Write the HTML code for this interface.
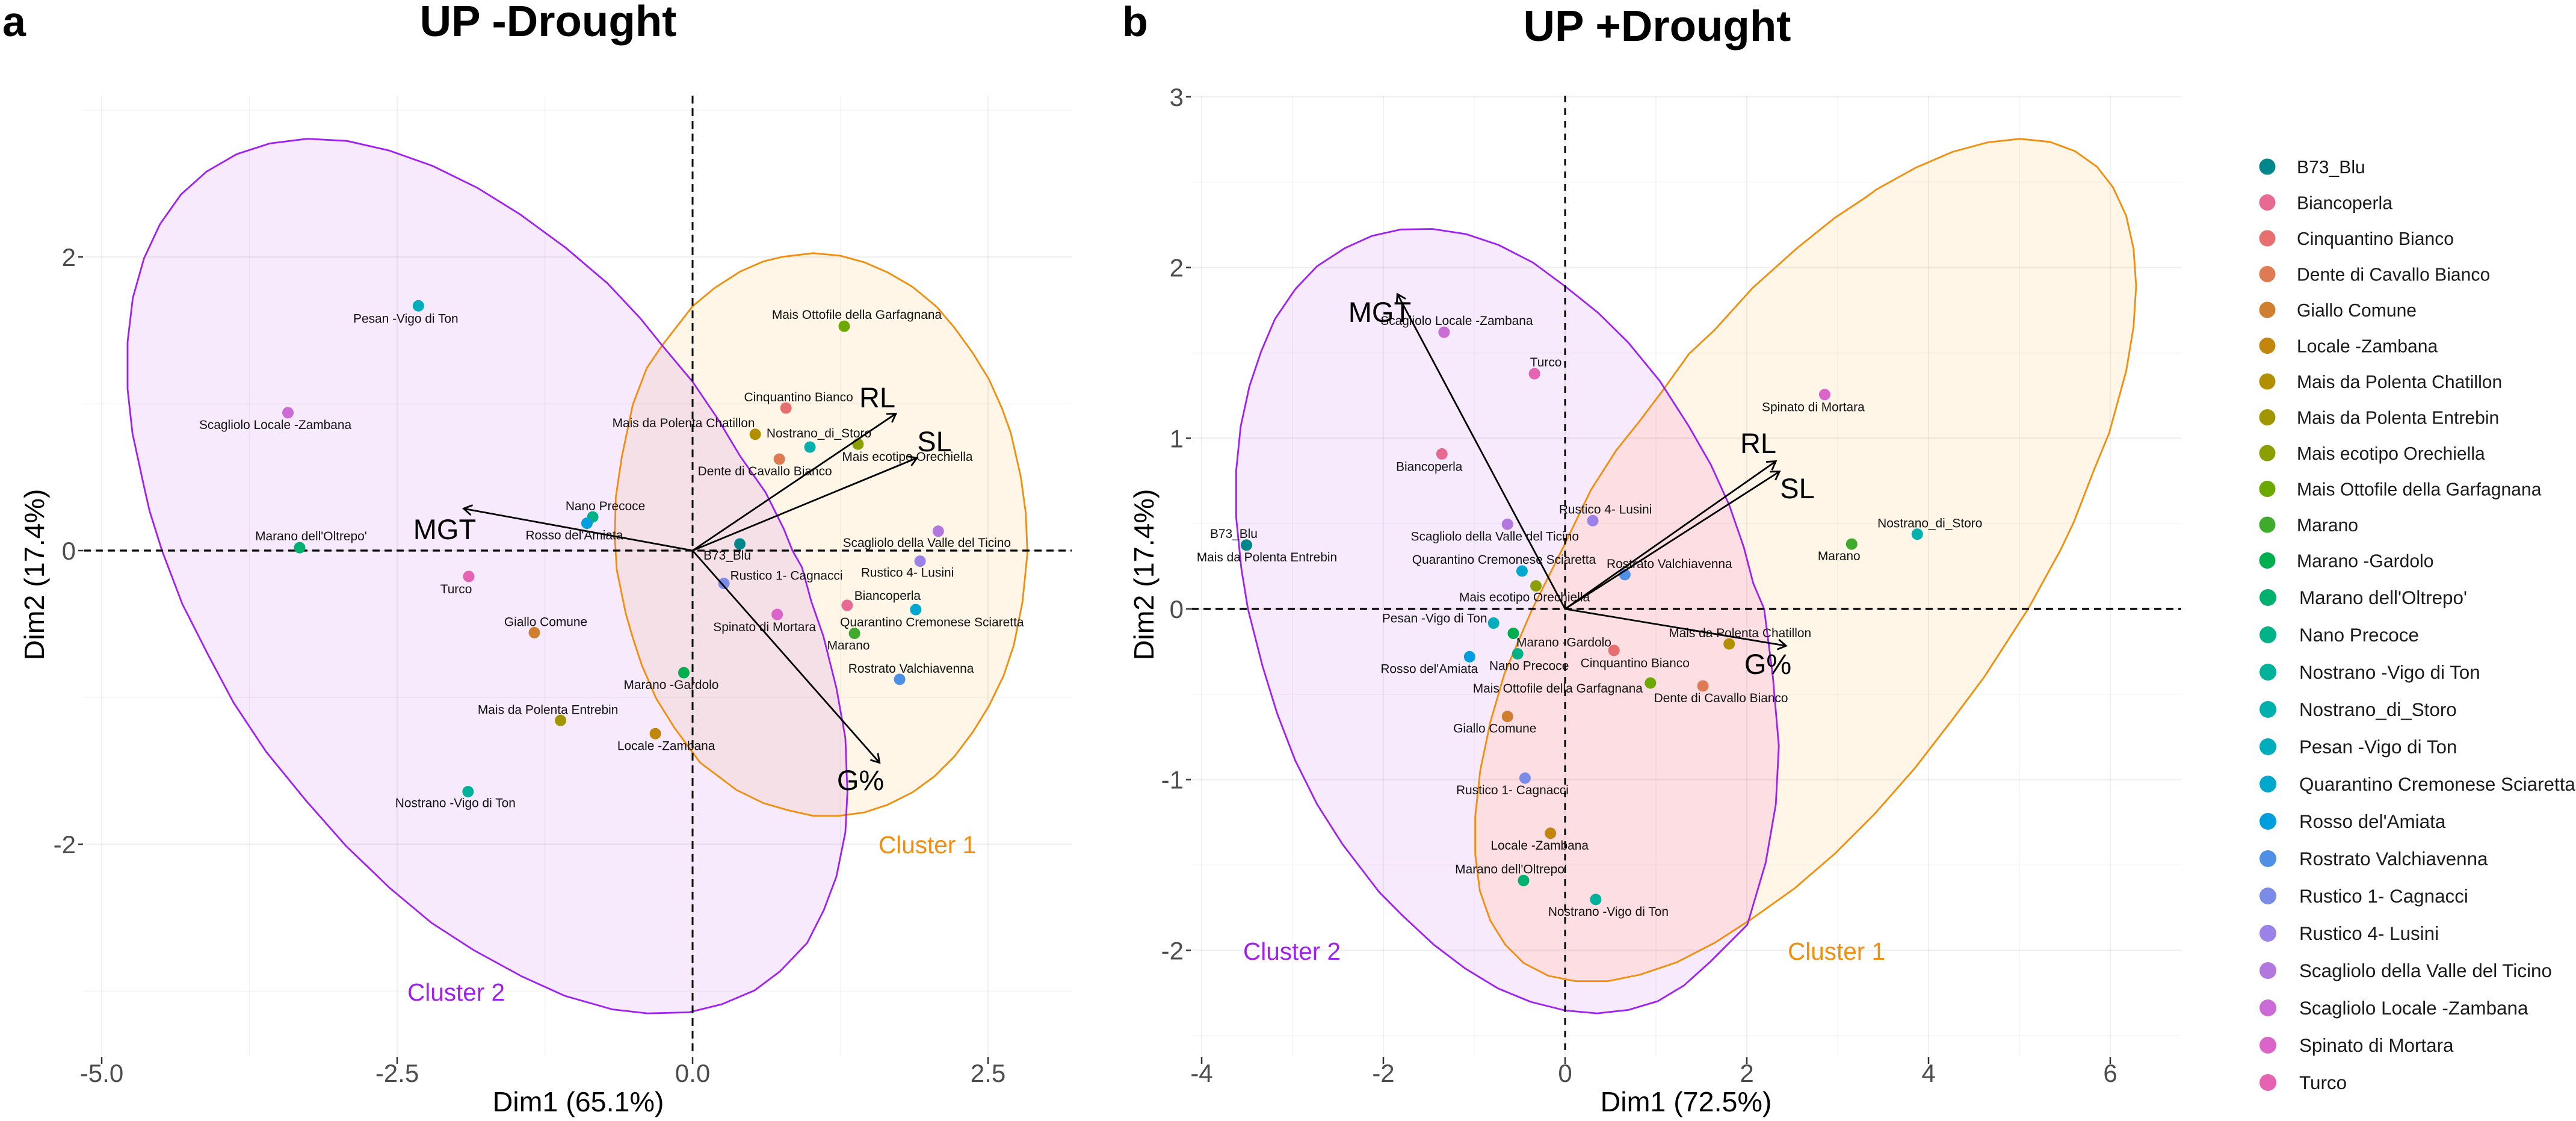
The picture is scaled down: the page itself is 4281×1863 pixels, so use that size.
<!DOCTYPE html>
<html lang="en">
<head>
<meta charset="utf-8">
<title>UP Drought PCA biplots</title>
<style>
html,body{margin:0;padding:0;background:#fff;}
svg{display:block;font-family:"Liberation Sans",Arial,sans-serif;}
</style>
</head>
<body>
<svg id="chart" xmlns="http://www.w3.org/2000/svg" width="4281" height="1863" viewBox="0 0 4281 1863">
  <rect x="0" y="0" width="4281" height="1863" fill="#ffffff"/>
  <text x="4" y="60" font-size="70" font-weight="700" fill="#000">a</text>
  <text x="1865" y="60" font-size="70" font-weight="700" fill="#000">b</text>
  <text x="911" y="60" font-size="72.7" font-weight="700" text-anchor="middle" fill="#000">UP -Drought</text>
  <text x="2754" y="68" font-size="72.7" font-weight="700" text-anchor="middle" fill="#000">UP +Drought</text>
  <g id="panelA"></g>
  <g id="panelB"></g>
  <g id="legend"></g>
</svg>
<script>
const genotypeNames = ["B73_Blu","Biancoperla","Cinquantino Bianco","Dente di Cavallo Bianco","Giallo Comune","Locale -Zambana","Mais da Polenta Chatillon","Mais da Polenta Entrebin","Mais ecotipo Orechiella","Mais Ottofile della Garfagnana","Marano","Marano -Gardolo","Marano dell'Oltrepo'","Nano Precoce","Nostrano -Vigo di Ton","Nostrano_di_Storo","Pesan -Vigo di Ton","Quarantino Cremonese Sciaretta","Rosso del'Amiata","Rostrato Valchiavenna","Rustico 1- Cagnacci","Rustico 4- Lusini","Scagliolo della Valle del Ticino","Scagliolo Locale -Zambana","Spinato di Mortara","Turco"];
const genotypeColors = ["#00868B","#E86A92","#E76F6F","#DE7B53","#CF7F2F","#C1860B","#B18F00","#A29600","#8B9F00","#6BA800","#3FAB2D","#00AD4F","#00B06F","#00B286","#00B29A","#00B0AC","#00ADBD","#00A8CE","#009DDF","#4D90E5","#7B8CE8","#9B82E8","#B377E0","#CB6CD6","#DB64C8","#E662B2"];

const scoresAX = [0.40,1.308,0.79,0.734,-1.339,-0.315,0.53,-1.117,1.40,1.283,1.37,-0.074,-3.325,-0.845,-1.9,0.993,-2.32,1.888,-0.894,1.752,0.265,1.925,2.079,-3.424,0.716,-1.894];
const scoresAY = [0.045,-0.373,0.971,0.623,-0.559,-1.247,0.792,-1.157,0.725,1.528,-0.564,-0.832,0.02,0.229,-1.642,0.705,1.667,-0.402,0.186,-0.877,-0.224,-0.072,0.132,0.939,-0.435,-0.176];
const scoresBX = [-3.507,-1.356,0.538,1.517,-0.634,-0.161,1.806,-3.507,-0.321,0.939,3.154,-0.57,-0.457,-0.522,0.337,3.876,-0.787,-0.474,-1.051,0.658,-0.441,0.305,-0.634,-1.332,2.857,-0.337];
const scoresBY = [0.374,0.908,-0.243,-0.451,-0.63,-1.314,-0.205,0.374,0.135,-0.434,0.38,-0.143,-1.591,-0.263,-1.702,0.438,-0.083,0.222,-0.28,0.201,-0.991,0.517,0.496,1.621,1.256,1.378];

const labelNudgeA = [[-21,19],[67,-16],[21,-18],[-24,20],[19,-18],[18,20],[-119,-19],[-21,-18],[82,21],[21,-19],[-10,20],[-21,20],[19,-19],[21,-18],[-21,19],[15,-23],[-21,21],[27,21],[-21,20],[19,-18],[104,-13],[-21,19],[-19,19],[-21,20],[-21,21],[-21,21]];
const labelNudgeB = [[-21,-19],[-21,21],[35,21],[30,20],[-21,20],[-18,20],[18,-18],[34,20],[-19,19],[-154,9],[-21,20],[84,15],[-21,-19],[19,20],[21,20],[21,-18],[-98,-8],[-30,-19],[-67,20],[74,-18],[-21,20],[21,-19],[-21,20],[21,-19],[-19,21],[19,-19]];

const variableNames = ["MGT","RL","SL","G%"];
const loadingsAX = [-1.937,1.721,1.899,1.582];
const loadingsAY = [0.286,0.933,0.631,-1.445];
const loadingsBX = [-1.846,2.319,2.36,2.432];
const loadingsBY = [1.845,0.865,0.805,-0.216];
const variableLabelNudgeA = [[-412,-19],[307,-238],[402,-165],[279,398]];
const variableLabelNudgeB = [[-308,-477],[321,-259],[386,-184],[337,108]];

const xTicksA = [-5.0,-2.5,0.0,2.5];
const xTickLabelsA = ["-5.0","-2.5","0.0","2.5"];
const xMinorA = [-3.75,-1.25,1.25];
const yTicksA = [2,0,-2];
const yTickLabelsA = ["2","0","-2"];
const yMinorA = [3,1,-1,-3];

const xTicksB = [-4,-2,0,2,4,6];
const xTickLabelsB = ["-4","-2","0","2","4","6"];
const xMinorB = [-3,-1,1,3,5];
const yTicksB = [3,2,1,0,-1,-2];
const yTickLabelsB = ["3","2","1","0","-1","-2"];
const yMinorB = [2.5,1.5,0.5,-0.5,-1.5,-2.5];

const cluster2A = [[-3.26,2.805],[-2.924,2.79],[-2.568,2.725],[-2.20,2.62],[-1.82,2.47],[-1.46,2.29],[-1.07,2.06],[-0.72,1.82],[-0.44,1.58],[-0.26,1.40],[0,1.15],[0.216,0.894],[0.40,0.646],[0.617,0.397],[0.771,0.149],[0.845,0],[0.925,-0.114],[1.005,-0.348],[1.106,-0.581],[1.217,-0.936],[1.293,-1.277],[1.31,-1.646],[1.293,-1.919],[1.217,-2.22],[1.11,-2.449],[0.969,-2.673],[0.74,-2.866],[0.524,-2.996],[0.247,-3.09],[-0.031,-3.145],[-0.382,-3.152],[-0.679,-3.125],[-1.08,-3.033],[-1.444,-2.901],[-1.851,-2.722],[-2.209,-2.536],[-2.56,-2.3],[-2.93,-2.014],[-3.27,-1.704],[-3.61,-1.369],[-3.886,-1.033],[-4.10,-0.71],[-4.318,-0.363],[-4.49,0],[-4.596,0.273],[-4.645,0.447],[-4.74,0.799],[-4.781,1.10],[-4.781,1.421],[-4.737,1.721],[-4.642,1.99],[-4.506,2.224],[-4.33,2.425],[-4.112,2.582],[-3.858,2.70],[-3.578,2.773]];
const cluster1A = [[0.759,2.001],[1.022,2.026],[1.251,2.008],[1.455,1.963],[1.658,1.892],[1.862,1.796],[2.066,1.66],[2.218,1.516],[2.371,1.345],[2.507,1.168],[2.617,0.97],[2.693,0.80],[2.778,0.499],[2.82,0.253],[2.833,-0.02],[2.792,-0.348],[2.719,-0.642],[2.631,-0.854],[2.507,-1.059],[2.371,-1.236],[2.218,-1.40],[2.048,-1.537],[1.862,-1.646],[1.65,-1.731],[1.455,-1.783],[1.234,-1.807],[1.022,-1.807],[0.81,-1.769],[0.6,-1.72],[0.37,-1.63],[0.062,-1.443],[-0.154,-1.207],[-0.308,-1.008],[-0.43,-0.78],[-0.506,-0.594],[-0.565,-0.43],[-0.642,-0.13],[-0.658,0.09],[-0.65,0.362],[-0.6,0.635],[-0.506,0.994],[-0.389,1.242],[-0.259,1.396],[0,1.664],[0.185,1.788],[0.401,1.90],[0.60,1.97]];
const cluster2B = [[-1.806,2.223],[-1.461,2.226],[-1.091,2.196],[-0.73,2.132],[-0.353,2.029],[0,1.89],[0.361,1.736],[0.698,1.559],[1.043,1.335],[1.364,1.068],[1.605,0.844],[1.806,0.609],[1.966,0.363],[2.071,0.15],[2.191,0],[2.287,-0.397],[2.352,-0.803],[2.319,-1.145],[2.207,-1.487],[2.006,-1.85],[1.605,-2.063],[1.308,-2.206],[1.019,-2.298],[0.698,-2.349],[0.353,-2.369],[0,-2.352],[-0.377,-2.302],[-0.738,-2.223],[-1.1,-2.106],[-1.445,-1.967],[-1.79,-1.796],[-2.047,-1.658],[-2.448,-1.38],[-2.729,-1.145],[-2.97,-0.888],[-3.17,-0.611],[-3.331,-0.333],[-3.491,0],[-3.563,0.235],[-3.62,0.534],[-3.62,0.812],[-3.571,1.068],[-3.475,1.303],[-3.347,1.506],[-3.194,1.698],[-2.97,1.873],[-2.729,2.008],[-2.424,2.114],[-2.127,2.185]];
const cluster1B = [[4.651,2.733],[5.004,2.754],[5.336,2.736],[5.611,2.682],[5.854,2.59],[6.031,2.469],[6.175,2.304],[6.256,2.11],[6.285,1.893],[6.256,1.652],[6.175,1.393],[6.042,1.135],[5.987,1.029],[5.819,0.812],[5.602,0.513],[5.457,0.35],[5.096,0],[4.615,-0.397],[4.254,-0.654],[3.852,-0.931],[3.411,-1.198],[2.97,-1.433],[2.528,-1.636],[2.047,-1.818],[1.645,-1.956],[1.228,-2.07],[0.827,-2.142],[0.465,-2.181],[0.12,-2.181],[-0.185,-2.149],[-0.457,-2.074],[-0.658,-1.967],[-0.823,-1.826],[-0.939,-1.65],[-0.989,-1.438],[-0.989,-1.215],[-0.934,-0.945],[-0.823,-0.663],[-0.669,-0.381],[-0.47,-0.134],[-0.361,0],[0,0.384],[0.281,0.694],[0.562,0.929],[0.819,1.1],[1.083,1.286],[1.364,1.495],[1.645,1.634],[2.063,1.88],[2.544,2.11],[2.97,2.292],[3.305,2.41],[3.426,2.457],[3.856,2.584],[4.265,2.678]];

const SVGNS = "http://www.w3.org/2000/svg";
const PURPLE = "#A020F0";
const ORANGE = "#F28E0C";

function make(parent, tag, name, props, content) {
  const el = document.createElementNS(SVGNS, tag);
  
  
  for (const key in props) el.setAttribute(key, props[key]);
  if (content !== undefined) el.textContent = content;
  parent.appendChild(el);
  return el;
}
function linearScale(zeroPx, pxPerUnit) {
  return function (v) { return zeroPx + v * pxPerUnit; };
}
function slug(s) {
  return s.toLowerCase().replace(/[^a-z0-9]+/g, '-').replace(/^-|-$/g, '');
}

function drawPanel(cfg) {
  const g = cfg.group, x = cfg.x, y = cfg.y, b = cfg.bounds;
  const toPoints = function (poly) {
    return poly.map(function (p) { return x(p[0]).toFixed(1) + ',' + y(p[1]).toFixed(1); }).join(' ');
  };
  const pts1 = toPoints(cfg.cluster1);
  const pts2 = toPoints(cfg.cluster2);

  const clip = make(g, 'clipPath', 'cluster-1-clip', {id: cfg.clipId});
  make(clip, 'polygon', 'cluster-1-clip-shape', {points: pts1});

  make(g, 'polygon', 'cluster-1-ellipse', {points: pts1, fill: '#FFF6E8', stroke: 'none'});
  make(g, 'polygon', 'cluster-2-ellipse', {points: pts2, fill: '#F8EAFD', stroke: 'none'});
  make(g, 'polygon', 'cluster-overlap', {points: pts2, fill: cfg.overlapFill, stroke: 'none', 'clip-path': 'url(#' + cfg.clipId + ')'});

  cfg.xMinor.forEach(function (v) {
    make(g, 'line', 'x-minor-gridline', {x1: x(v), x2: x(v), y1: b.top, y2: b.bottom, stroke: '#000', 'stroke-opacity': 0.045, 'stroke-width': 1.5});
  });
  cfg.yMinor.forEach(function (v) {
    make(g, 'line', 'y-minor-gridline', {x1: b.left, x2: b.right, y1: y(v), y2: y(v), stroke: '#000', 'stroke-opacity': 0.045, 'stroke-width': 1.5});
  });
  cfg.xTicks.forEach(function (v, i) {
    make(g, 'line', 'x-major-gridline', {x1: x(v), x2: x(v), y1: b.top, y2: b.bottom, stroke: '#000', 'stroke-opacity': 0.06, 'stroke-width': 2.2});
    make(g, 'line', 'x-tick', {x1: x(v), x2: x(v), y1: b.bottom + 2, y2: b.bottom + 13, stroke: '#333', 'stroke-width': 2.5});
    make(g, 'text', 'x-tick-label', {x: x(v), y: 1798, 'font-size': 42, 'text-anchor': 'middle', fill: '#4d4d4d'}, cfg.xTickLabels[i]);
  });
  cfg.yTicks.forEach(function (v, i) {
    make(g, 'line', 'y-major-gridline', {x1: b.left, x2: b.right, y1: y(v), y2: y(v), stroke: '#000', 'stroke-opacity': 0.06, 'stroke-width': 2.5});
    make(g, 'line', 'y-tick', {x1: b.left - 9, x2: b.left - 1, y1: y(v), y2: y(v), stroke: '#333', 'stroke-width': 2.5});
    make(g, 'text', 'y-tick-label', {x: b.left - 13, y: y(v) + 15, 'font-size': 42, 'text-anchor': 'end', fill: '#4d4d4d'}, cfg.yTickLabels[i]);
  });

  make(g, 'polygon', 'cluster-1-outline', {points: pts1, fill: 'none', stroke: ORANGE, 'stroke-width': 2.8});
  make(g, 'polygon', 'cluster-2-outline', {points: pts2, fill: 'none', stroke: PURPLE, 'stroke-width': 2.8});

  make(g, 'line', 'horizontal-zero-line', {x1: b.left, x2: b.right, y1: y(0), y2: y(0), stroke: '#000', 'stroke-width': 3.2, 'stroke-dasharray': '12 8'});
  make(g, 'line', 'vertical-zero-line', {x1: x(0), x2: x(0), y1: b.top, y2: b.bottom, stroke: '#000', 'stroke-width': 3, 'stroke-dasharray': cfg.vDash});

  const order = genotypeNames.map(function (_, i) { return i; }).filter(function (i) { return i !== 7; });
  order.unshift(7);
  order.forEach(function (i) {
    make(g, 'circle', 'point-' + slug(genotypeNames[i]), {cx: x(cfg.scoresX[i]), cy: y(cfg.scoresY[i]), r: 9.5, fill: genotypeColors[i]});
  });
  order.forEach(function (i) {
    make(g, 'text', 'label-' + slug(genotypeNames[i]), {
      x: x(cfg.scoresX[i]) + cfg.nudge[i][0],
      y: y(cfg.scoresY[i]) + cfg.nudge[i][1] + 7,
      'font-size': 20.9, 'text-anchor': 'middle', fill: '#111'
    }, genotypeNames[i]);
  });

  variableNames.forEach(function (name, i) {
    const tx = x(cfg.loadX[i]), ty = y(cfg.loadY[i]);
    const ox = x(0), oy = y(0);
    make(g, 'line', 'arrow-' + slug(name) + '-shaft', {x1: ox, y1: oy, x2: tx, y2: ty, stroke: '#000', 'stroke-width': 2.8});
    const ang = Math.atan2(ty - oy, tx - ox);
    const len = 16, spread = 0.55;
    const head = [
      (tx - len * Math.cos(ang - spread)) + ',' + (ty - len * Math.sin(ang - spread)),
      tx + ',' + ty,
      (tx - len * Math.cos(ang + spread)) + ',' + (ty - len * Math.sin(ang + spread))
    ].join(' ');
    make(g, 'polyline', 'arrow-' + slug(name) + '-head', {points: head, fill: 'none', stroke: '#000', 'stroke-width': 2.8});
    make(g, 'text', 'variable-label-' + slug(name), {
      x: ox + cfg.varNudge[i][0],
      y: oy + cfg.varNudge[i][1],
      'font-size': 47, 'text-anchor': 'middle', fill: '#000'
    }, name);
  });

  make(g, 'text', 'cluster-1-label', {x: cfg.c1Label[0], y: cfg.c1Label[1], 'font-size': 40.5, 'text-anchor': 'middle', fill: ORANGE}, 'Cluster 1');
  make(g, 'text', 'cluster-2-label', {x: cfg.c2Label[0], y: cfg.c2Label[1], 'font-size': 40.5, 'text-anchor': 'middle', fill: PURPLE}, 'Cluster 2');

  make(g, 'text', 'x-axis-title', {x: cfg.xTitle, y: 1847, 'font-size': 46.6, 'text-anchor': 'middle', fill: '#000'}, cfg.xTitleText);
  make(g, 'text', 'y-axis-title', {
    transform: 'translate(' + cfg.yTitleX + ',955) rotate(-90)',
    'font-size': 46.6, 'text-anchor': 'middle', fill: '#000'
  }, 'Dim2 (17.4%)');
}

drawPanel({
  group: document.getElementById('panelA'),
  clipId: 'clipClusterA',
  overlapFill: '#F6E0E8',
  vDash: '13 8',
  x: linearScale(1151, 196.4),
  y: linearScale(915, -244),
  bounds: {left: 139, right: 1781, top: 159, bottom: 1755},
  xTicks: xTicksA, xTickLabels: xTickLabelsA, xMinor: xMinorA,
  yTicks: yTicksA, yTickLabels: yTickLabelsA, yMinor: yMinorA,
  cluster1: cluster1A, cluster2: cluster2A,
  scoresX: scoresAX, scoresY: scoresAY, nudge: labelNudgeA,
  loadX: loadingsAX, loadY: loadingsAY, varNudge: variableLabelNudgeA,
  c1Label: [1541, 1418], c2Label: [758, 1663],
  xTitle: 961, xTitleText: 'Dim1 (65.1%)', yTitleX: 73
});

drawPanel({
  group: document.getElementById('panelB'),
  clipId: 'clipClusterB',
  overlapFill: '#FDDFE3',
  vDash: '11 10',
  x: linearScale(2601, 151),
  y: linearScale(1012, -283.7),
  bounds: {left: 1980, right: 3625, top: 159, bottom: 1755},
  xTicks: xTicksB, xTickLabels: xTickLabelsB, xMinor: xMinorB,
  yTicks: yTicksB, yTickLabels: yTickLabelsB, yMinor: yMinorB,
  cluster1: cluster1B, cluster2: cluster2B,
  scoresX: scoresBX, scoresY: scoresBY, nudge: labelNudgeB,
  loadX: loadingsBX, loadY: loadingsBY, varNudge: variableLabelNudgeB,
  c1Label: [3052, 1595], c2Label: [2147, 1595],
  xTitle: 2802, xTitleText: 'Dim1 (72.5%)', yTitleX: 1917
});

const legendGroup = document.getElementById('legend');
genotypeNames.forEach(function (name, i) {
  const upper = i < 12;
  const cy = upper ? 277 + 59.5 * i : 993 + 62 * (i - 12);
  make(legendGroup, 'circle', 'legend-key-' + slug(name), {cx: upper ? 3768 : 3769, cy: cy, r: upper ? 13.5 : 14, fill: genotypeColors[i]});
  make(legendGroup, 'text', 'legend-label-' + slug(name), {x: upper ? 3817 : 3821, y: cy + 11, 'font-size': upper ? 30.1 : 31.4, fill: '#1a1a1a'}, name);
});
</script>
</body>
</html>
